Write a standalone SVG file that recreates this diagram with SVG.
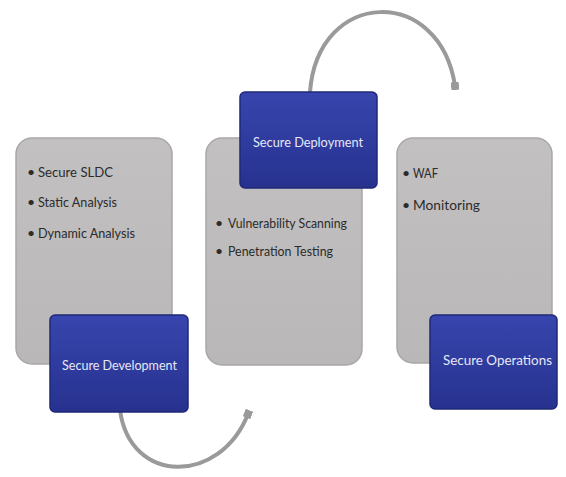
<svg xmlns="http://www.w3.org/2000/svg" width="566" height="477" viewBox="0 0 566 477">
  <defs>
    <linearGradient id="gBlue" x1="0" y1="0" x2="0" y2="1">
      <stop offset="0" stop-color="#3745ad"/>
      <stop offset="1" stop-color="#27328f"/>
    </linearGradient>
    <linearGradient id="gGrey" x1="0" y1="0" x2="0" y2="1">
      <stop offset="0" stop-color="#c2c0c0"/>
      <stop offset="1" stop-color="#b9b7b7"/>
    </linearGradient>
    <marker id="tip" viewBox="0 0 6 6" refX="3" refY="3" markerWidth="2" markerHeight="2" orient="auto">
      <rect x="0" y="0" width="6" height="6" fill="#9a9a9a"/>
    </marker>
    <style>
      .card { fill: url(#gGrey); stroke: #a9a7a7; stroke-width: 1.5; }
      .phase { fill: url(#gBlue); stroke: #1f2878; stroke-width: 1.5; }
      .item { font-family: "Lato", "Liberation Sans", sans-serif; font-size: 14px; fill: #2b2b2b; }
      .title { font-family: "Lato", "Liberation Sans", sans-serif; font-size: 14px; fill: #e6e8f6; }
      .arc { fill: none; stroke: #9a9a9a; stroke-width: 4; stroke-linecap: round; marker-end: url(#tip); }
    </style>
  </defs>

  <rect width="566" height="477" fill="#ffffff"/>

  <!-- cycle arrows between phases -->
  <g id="connectors">
    <path class="arc" d="M310,92 C318,-12 440,-15 455,86"/>
    <path class="arc" d="M120,410 C130,485 220,485 248,414"/>
  </g>

  <!-- phase 1: development -->
  <g id="secure-development">
    <rect class="card" x="16" y="138" width="156" height="226" rx="16"/>
    <text class="item" x="27" y="177">•</text>
    <text class="item" x="38" y="177" textLength="75" lengthAdjust="spacingAndGlyphs">Secure SLDC</text>
    <text class="item" x="27" y="207">•</text>
    <text class="item" x="38" y="207" textLength="79" lengthAdjust="spacingAndGlyphs">Static Analysis</text>
    <text class="item" x="27" y="238">•</text>
    <text class="item" x="38" y="238" textLength="97" lengthAdjust="spacingAndGlyphs">Dynamic Analysis</text>
    <rect class="phase" x="50" y="315" width="138" height="97" rx="5"/>
    <text class="title" x="62" y="370" textLength="115" lengthAdjust="spacingAndGlyphs">Secure Development</text>
  </g>

  <!-- phase 2: deployment -->
  <g id="secure-deployment">
    <rect class="card" x="206" y="138" width="156" height="227" rx="16"/>
    <text class="item" x="215" y="228">•</text>
    <text class="item" x="228" y="228" textLength="119" lengthAdjust="spacingAndGlyphs">Vulnerability Scanning</text>
    <text class="item" x="215" y="256">•</text>
    <text class="item" x="228" y="256" textLength="105" lengthAdjust="spacingAndGlyphs">Penetration Testing</text>
    <rect class="phase" x="240" y="92" width="137" height="96" rx="5"/>
    <text class="title" x="253" y="147" textLength="110" lengthAdjust="spacingAndGlyphs">Secure Deployment</text>
  </g>

  <!-- phase 3: operations -->
  <g id="secure-operations">
    <rect class="card" x="397" y="138" width="155" height="225" rx="16"/>
    <text class="item" x="402" y="178">•</text>
    <text class="item" x="413" y="178" textLength="25" lengthAdjust="spacingAndGlyphs">WAF</text>
    <text class="item" x="402" y="210">•</text>
    <text class="item" x="413" y="210" textLength="67" lengthAdjust="spacingAndGlyphs">Monitoring</text>
    <rect class="phase" x="430" y="315" width="127" height="94" rx="5"/>
    <text class="title" x="443" y="365" textLength="109" lengthAdjust="spacingAndGlyphs">Secure Operations</text>
  </g>
</svg>
